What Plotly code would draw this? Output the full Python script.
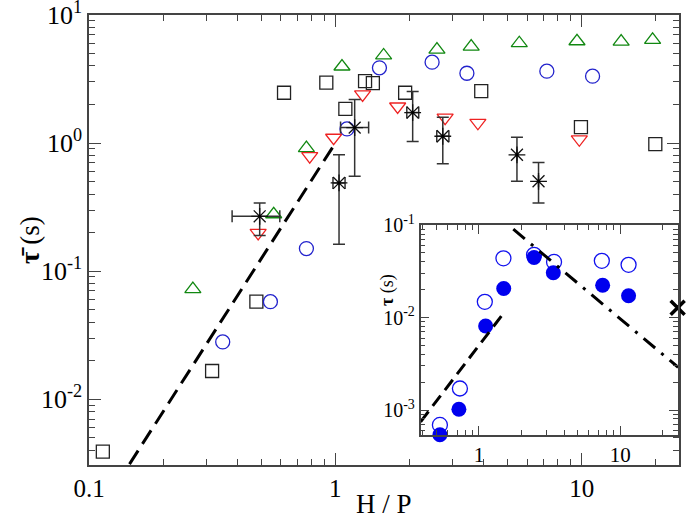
import numpy as np
import plotly.graph_objects as go

# ---- main panel data ----
sq_x = [0.1138, 0.316, 0.478, 0.619, 0.919, 1.098, 1.32, 1.42, 1.92, 3.91, 9.93, 19.9]
sq_y = [0.0039, 0.0166, 0.0577, 2.47, 2.96, 1.85, 3.04, 2.94, 2.47, 2.54, 1.33, 0.98]

ci_x = [0.349, 0.545, 0.763, 1.115, 1.51, 2.47, 3.42, 7.22, 11.07]
ci_y = [0.028, 0.0577, 0.150, 1.29, 3.87, 4.28, 3.51, 3.64, 3.33]

tu_x = [0.264, 0.562, 0.763, 1.064, 1.57, 2.585, 3.56, 5.58, 9.57, 14.46, 19.4]
tu_y = [0.0723, 0.278, 0.914, 3.96, 4.83, 5.37, 5.67, 6.02, 6.24, 6.2, 6.4]

td_x = [0.486, 0.787, 0.984, 1.29, 1.79, 2.79, 3.79, 9.78]
td_y = [0.199, 0.79, 1.10, 2.40, 1.93, 1.58, 1.44, 1.07]

st_x = [0.493, 1.035, 1.198, 2.06, 2.73, 5.46, 6.68]
st_y = [0.268, 0.488, 1.32, 1.73, 1.13, 0.81, 0.503]
st_y_hi = [0.341, 0.81, 2.19, 2.53, 1.59, 1.11, 0.704]
st_y_lo = [0.190, 0.162, 0.55, 1.03, 0.69, 0.503, 0.341]
st_x_hi = [0.595, 1.095, 1.365, 2.18, 2.89, 5.46, 6.68]
st_x_lo = [0.381, 0.978, 1.05, 1.95, 2.58, 5.46, 6.68]

fit_main_x = [0.146, 0.99]   # tau ~ (H/P)^3

# ---- inset data ----
in_open_x = [0.529, 0.733, 1.10, 1.49, 2.455, 3.40, 7.41, 11.46]
in_open_y = [6.9e-4, 1.71e-3, 0.0148, 0.0438, 0.0477, 0.040, 0.0411, 0.0372]
in_fill_x = [0.529, 0.721, 1.115, 1.497, 2.455, 3.36, 7.51, 11.46]
in_fill_y = [5.4e-4, 1.02e-3, 8.1e-3, 0.0206, 0.0446, 0.0306, 0.0224, 0.0172]
in_cross_x = [25.5]
in_cross_y = [0.0128]
fit_in1_x = [0.386, 1.53]    # ~ x^2
fit_in2_x = [1.75, 25.7]     # ~ x^-1.28

SERIF = "Liberation Serif"
AX = "#444444"

fig = go.Figure()

def add(x, y, sym, color, size, **kw):
    fig.add_trace(go.Scatter(x=x, y=y, mode="markers",
                             marker=dict(symbol=sym, size=size, color=color,
                                         line=dict(color=color, width=1.3)),
                             showlegend=False, cliponaxis=False, **kw))

add(sq_x, sq_y, "square-open", "#222222", 13)
add(ci_x, ci_y, "circle-open", "#2222cc", 14)
add(tu_x, tu_y, "triangle-up-open", "#118811", 14)
add(td_x, td_y, "triangle-down-open", "#ee2222", 14)

sx = np.array(st_x); sy = np.array(st_y)
fig.add_trace(go.Scatter(
    x=st_x, y=st_y, mode="markers",
    marker=dict(symbol="asterisk-open", size=14, color="#111111",
                line=dict(color="#111111", width=1.3)),
    error_y=dict(type="data", symmetric=False,
                 array=list(np.array(st_y_hi) - sy),
                 arrayminus=list(sy - np.array(st_y_lo)),
                 color="#333333", thickness=1.5, width=6),
    error_x=dict(type="data", symmetric=False,
                 array=list(np.array(st_x_hi) - sx),
                 arrayminus=list(sx - np.array(st_x_lo)),
                 color="#333333", thickness=1.5, width=6),
    showlegend=False))
fig.add_trace(go.Scatter(x=st_x, y=st_y, mode="markers",
                         marker=dict(symbol="circle", size=3, color="#000000"),
                         showlegend=False))

fmx = np.array(fit_main_x)
fig.add_trace(go.Scatter(x=fit_main_x, y=list(fmx ** 3), mode="lines",
                         line=dict(color="black", width=3, dash="16px,8px"),
                         showlegend=False))

# inset traces
fig.add_trace(go.Scatter(x=in_open_x, y=in_open_y, mode="markers", xaxis="x2", yaxis="y2",
                         marker=dict(symbol="circle-open", size=15, color="#1111ee",
                                     line=dict(color="#1111ee", width=1.3)),
                         showlegend=False, cliponaxis=False))
fig.add_trace(go.Scatter(x=in_fill_x, y=in_fill_y, mode="markers", xaxis="x2", yaxis="y2",
                         marker=dict(symbol="circle", size=15, color="#0000ee"),
                         showlegend=False, cliponaxis=False))
f1 = np.array(fit_in1_x)
fig.add_trace(go.Scatter(x=fit_in1_x, y=list(0.005 * f1 ** 2), mode="lines", xaxis="x2", yaxis="y2",
                         line=dict(color="black", width=3, dash="13px,7px"),
                         showlegend=False))
f2 = np.array(fit_in2_x)
fig.add_trace(go.Scatter(x=fit_in2_x, y=list(0.185 * f2 ** -1.28), mode="lines", xaxis="x2", yaxis="y2",
                         line=dict(color="black", width=3, dash="15px,8px,3px,8px"),
                         showlegend=False))
fig.add_trace(go.Scatter(x=in_cross_x, y=in_cross_y, mode="markers", xaxis="x2", yaxis="y2",
                         marker=dict(symbol="x-thin-open", size=14, color="black",
                                     line=dict(color="black", width=3.5)),
                         showlegend=False, cliponaxis=False))

def minor_vals(lo, hi):
    v = []
    for e in range(lo, hi):
        for m in range(2, 10):
            v.append(m * 10.0 ** e)
    return v

common = dict(type="log", showline=True, linecolor=AX, linewidth=1.5, mirror="allticks",
              ticks="inside", ticklen=12, tickwidth=1.3, tickcolor=AX,
              showgrid=False, zeroline=False, automargin=False,
              ticklabeloverflow="allow")

fig.update_layout(
    width=688, height=520,
    margin=dict(l=89, r=9, t=15, b=55, autoexpand=False),
    paper_bgcolor="white", plot_bgcolor="white",
    font=dict(family=SERIF, color="black"),
    xaxis=dict(**common, range=[-1.0, 1.395],
               tickvals=[0.1, 1, 10], ticktext=["0.1", "1", "10"],
               tickfont=dict(size=25, family=SERIF),
               minor=dict(tickvals=minor_vals(-1, 2), ticks="inside", ticklen=6,
                          tickwidth=1.2, tickcolor=AX, showgrid=False)),
    yaxis=dict(**common, range=[-2.514, 1.0],
               tickvals=[0.01, 0.1, 1, 10],
               ticktext=["10<sup>-2</sup>", "10<sup>-1</sup>", "10<sup>0</sup>", "10<sup>1</sup>"],
               tickfont=dict(size=26, family=SERIF),
               minor=dict(tickvals=minor_vals(-3, 1), ticks="inside", ticklen=6,
                          tickwidth=1.2, tickcolor=AX, showgrid=False)),
    xaxis2=dict(**{**common, "ticklen": 9}, domain=[0.562, 0.9985], anchor="y2",
                range=[np.log10(0.386), np.log10(25.7)],
                tickvals=[1, 10], ticktext=["1", "10"],
                tickfont=dict(size=21, family=SERIF),
                minor=dict(tickvals=minor_vals(-1, 2), ticks="inside", ticklen=5,
                           tickwidth=1.2, tickcolor=AX, showgrid=False)),
    yaxis2=dict(**{**common, "ticklen": 9}, domain=[0.0667, 0.533], anchor="x2",
                range=[-3.27, -1.0],
                tickvals=[0.001, 0.01, 0.1],
                ticktext=["10<sup>-3</sup>", "10<sup>-2</sup>", "10<sup>-1</sup>"],
                tickfont=dict(size=20, family=SERIF),
                minor=dict(tickvals=minor_vals(-4, -1), ticks="inside", ticklen=5,
                           tickwidth=1.2, tickcolor=AX, showgrid=False)),
    annotations=[
        dict(text="H / P", xref="paper", yref="paper", x=0.5, y=-0.087,
             xanchor="center", yanchor="middle", showarrow=False,
             font=dict(size=27, family=SERIF)),
        dict(text="<b>τ̄</b> (s)", xref="paper", yref="paper", x=-0.1, y=0.5,
             xanchor="center", yanchor="middle", showarrow=False, textangle=-90,
             font=dict(size=27, family=SERIF)),
        dict(text="<b>τ</b> (s)", xref="paper", yref="paper", x=0.507, y=0.389,
             xanchor="center", yanchor="middle", showarrow=False, textangle=-90,
             font=dict(size=18, family=SERIF)),
    ],
)

# remove the browser's default 8px body margin so the 688x520 figure fills the window
fig.write_html("out.html", config={"displayModeBar": False},
               post_script="document.body.style.margin='0';")
